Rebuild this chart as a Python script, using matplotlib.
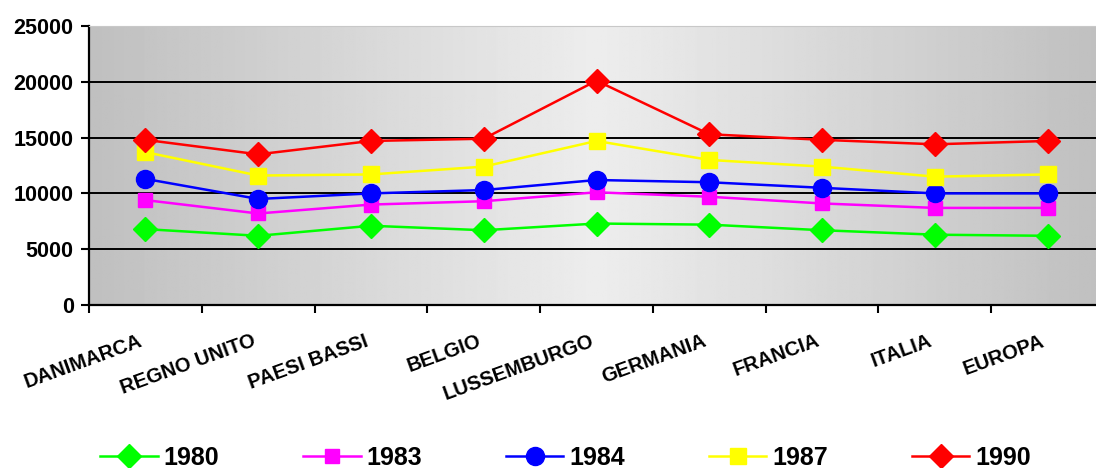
import numpy as np
import matplotlib.pyplot as plt

plt.rcParams['font.family'] = ['Liberation Sans', 'DejaVu Sans']

paesi = ['DANIMARCA', 'REGNO UNITO', 'PAESI BASSI', 'BELGIO', 'LUSSEMBURGO',
         'GERMANIA', 'FRANCIA', 'ITALIA', 'EUROPA']

v1980 = [6800, 6200, 7100, 6700, 7300, 7200, 6700, 6300, 6200]
v1983 = [9400, 8200, 9000, 9300, 10100, 9700, 9100, 8700, 8700]
v1984 = [11300, 9500, 10000, 10300, 11200, 11000, 10500, 10000, 10000]
v1987 = [13700, 11600, 11700, 12400, 14700, 13000, 12400, 11500, 11700]
v1990 = [14800, 13500, 14700, 14900, 20100, 15300, 14800, 14400, 14700]

serie = [
    ('1980', v1980, '#00ff00', 'D', 12),
    ('1983', v1983, '#ff00ff', 's', 10),
    ('1984', v1984, '#0000ff', 'o', 13),
    ('1987', v1987, '#ffff00', 's', 11.5),
    ('1990', v1990, '#ff0000', 'D', 12.5),
]

fig = plt.figure(figsize=(10.96, 4.68), dpi=100)
ax = fig.add_axes([89 / 1096, 163 / 468, 1015 / 1096, 279 / 468])

# sfondo a gradiente orizzontale (scuro ai lati, chiaro al centro)
t = np.linspace(0, 1, 512)
grad = 0.75 + 0.18 * (1 - np.abs(2 * t - 1))
ax.imshow(np.tile(grad, (2, 1)), cmap='gray', vmin=0, vmax=1, aspect='auto',
          extent=[0, 1, 0, 1], transform=ax.transAxes, zorder=0)

x = np.arange(len(paesi))
for nome, vals, col, mk, ms in serie:
    ax.plot(x, vals, color=col, lw=1.8, marker=mk, markersize=ms,
            markeredgecolor=col, label=nome, zorder=3)

ax.set_xlim(-0.5, len(paesi) - 0.5)
ax.set_ylim(0, 25000)
ax.set_yticks(np.arange(0, 25001, 5000))
ax.yaxis.grid(True, color='black', lw=1.4, zorder=1)
ax.set_axisbelow(True)

# etichette agganciate poco a sinistra del punto (tacche principali invisibili)
ax.set_xticks(x - 0.06)
ax.set_xticklabels(paesi, rotation=20, ha='right', va='top',
                   rotation_mode='anchor', fontsize=14.5, fontweight='bold')
ax.set_xticks(np.arange(-0.5, len(paesi)), minor=True)
ax.tick_params(axis='x', which='major', length=0, pad=19)
ax.tick_params(axis='x', which='minor', length=6, width=1.5, direction='out')
ax.tick_params(axis='y', length=6, width=1.5, direction='out', pad=5)
for lab in ax.get_yticklabels():
    lab.set_fontsize(15.5)
    lab.set_fontweight('bold')

ax.spines['left'].set_linewidth(1.6)
ax.spines['bottom'].set_linewidth(1.6)
ax.spines['top'].set_color('#c8c8c8')
ax.spines['right'].set_visible(False)

leg = fig.legend(loc='lower center', bbox_to_anchor=(0.516, -0.052), ncol=5,
                 frameon=False, handlelength=2.3, columnspacing=3.35,
                 handletextpad=0.24, prop={'weight': 'bold', 'size': 18})

fig.savefig('out.png', dpi=100)
